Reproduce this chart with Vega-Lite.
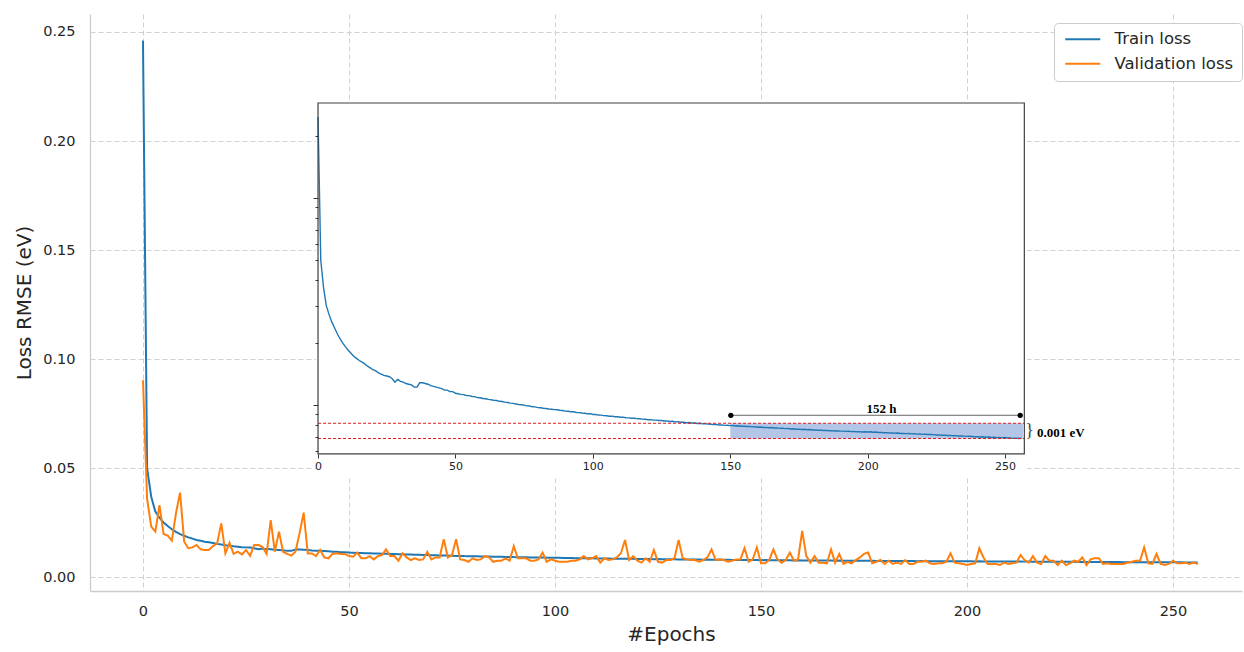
{
  "$schema": "https://vega.github.io/schema/vega-lite/v6.json",
  "width": 1152,
  "height": 577,
  "autosize": {"type": "none"},
  "padding": {"left": 90, "top": 14, "right": 2, "bottom": 61},
  "background": "white",
  "config": {
    "font": "DejaVu Sans",
    "view": {"stroke": null},
    "axis": {"labelFont": "DejaVu Sans", "titleFont": "DejaVu Sans", "labelColor": "#262626", "titleColor": "#262626", "titleFontWeight": "normal", "gridColor": "#d0d0d0", "gridDash": [5, 3], "gridWidth": 1, "domain": false, "ticks": false},
    "legend": {"labelFont": "DejaVu Sans"}
  },
  "datasets": {
    "d": [
      {"epoch":0,"train":0.2460,"val":0.0904},{"epoch":1,"train":0.0500,"val":0.0360},{"epoch":2,"train":0.0370,"val":0.0233},{"epoch":3,"train":0.0302,"val":0.0210},{"epoch":4,"train":0.0274,"val":0.0332},{"epoch":5,"train":0.0252,"val":0.0199},{"epoch":6,"train":0.0236,"val":0.0192},{"epoch":7,"train":0.0221,"val":0.0169},{"epoch":8,"train":0.0209,"val":0.0294},{"epoch":9,"train":0.0199,"val":0.0389},
      {"epoch":10,"train":0.0191,"val":0.0164},{"epoch":11,"train":0.0184,"val":0.0134},{"epoch":12,"train":0.0178,"val":0.0138},{"epoch":13,"train":0.0172,"val":0.0149},{"epoch":14,"train":0.0168,"val":0.0129},{"epoch":15,"train":0.0164,"val":0.0126},{"epoch":16,"train":0.0161,"val":0.0126},{"epoch":17,"train":0.0158,"val":0.0144},{"epoch":18,"train":0.0154,"val":0.0156},{"epoch":19,"train":0.0151,"val":0.0248},
      {"epoch":20,"train":0.0148,"val":0.0111},{"epoch":21,"train":0.0146,"val":0.0159},{"epoch":22,"train":0.0143,"val":0.0108},{"epoch":23,"train":0.0141,"val":0.0118},{"epoch":24,"train":0.0139,"val":0.0106},{"epoch":25,"train":0.0138,"val":0.0126},{"epoch":26,"train":0.0137,"val":0.0099},{"epoch":27,"train":0.0134,"val":0.0149},{"epoch":28,"train":0.0129,"val":0.0149},{"epoch":29,"train":0.0133,"val":0.0141},
      {"epoch":30,"train":0.0130,"val":0.0108},{"epoch":31,"train":0.0129,"val":0.0263},{"epoch":32,"train":0.0127,"val":0.0118},{"epoch":33,"train":0.0126,"val":0.0210},{"epoch":34,"train":0.0125,"val":0.0118},{"epoch":35,"train":0.0122,"val":0.0108},{"epoch":36,"train":0.0122,"val":0.0100},{"epoch":37,"train":0.0128,"val":0.0118},{"epoch":38,"train":0.0128,"val":0.0202},{"epoch":39,"train":0.0127,"val":0.0297},
      {"epoch":40,"train":0.0126,"val":0.0110},{"epoch":41,"train":0.0124,"val":0.0110},{"epoch":42,"train":0.0123,"val":0.0098},{"epoch":43,"train":0.0122,"val":0.0126},{"epoch":44,"train":0.0121,"val":0.0092},{"epoch":45,"train":0.0120,"val":0.0088},{"epoch":46,"train":0.0118,"val":0.0108},{"epoch":47,"train":0.0118,"val":0.0111},{"epoch":48,"train":0.0116,"val":0.0108},{"epoch":49,"train":0.0116,"val":0.0108},
      {"epoch":50,"train":0.01140,"val":0.0098},{"epoch":51,"train":0.01134,"val":0.0095},{"epoch":52,"train":0.01126,"val":0.0114},{"epoch":53,"train":0.01122,"val":0.0088},{"epoch":54,"train":0.01112,"val":0.0088},{"epoch":55,"train":0.01110,"val":0.0098},{"epoch":56,"train":0.01099,"val":0.0083},{"epoch":57,"train":0.01097,"val":0.0098},{"epoch":58,"train":0.01086,"val":0.0103},{"epoch":59,"train":0.01084,"val":0.0129},
      {"epoch":60,"train":0.01075,"val":0.0098},{"epoch":61,"train":0.01072,"val":0.0098},{"epoch":62,"train":0.01064,"val":0.0077},{"epoch":63,"train":0.01060,"val":0.0111},{"epoch":64,"train":0.01053,"val":0.0092},{"epoch":65,"train":0.01051,"val":0.0080},{"epoch":66,"train":0.01042,"val":0.0088},{"epoch":67,"train":0.01040,"val":0.0080},{"epoch":68,"train":0.01032,"val":0.0083},{"epoch":69,"train":0.01028,"val":0.0118},
      {"epoch":70,"train":0.01021,"val":0.0083},{"epoch":71,"train":0.01018,"val":0.0092},{"epoch":72,"train":0.01011,"val":0.0092},{"epoch":73,"train":0.01006,"val":0.0175},{"epoch":74,"train":0.01002,"val":0.0092},{"epoch":75,"train":0.00998,"val":0.0103},{"epoch":76,"train":0.00990,"val":0.0175},{"epoch":77,"train":0.00989,"val":0.0083},{"epoch":78,"train":0.00980,"val":0.0080},{"epoch":79,"train":0.00979,"val":0.0072},
      {"epoch":80,"train":0.00971,"val":0.0088},{"epoch":81,"train":0.00970,"val":0.0080},{"epoch":82,"train":0.00965,"val":0.0083},{"epoch":83,"train":0.00962,"val":0.0098},{"epoch":84,"train":0.00957,"val":0.0092},{"epoch":85,"train":0.00954,"val":0.0072},{"epoch":86,"train":0.00950,"val":0.0077},{"epoch":87,"train":0.00948,"val":0.0077},{"epoch":88,"train":0.00943,"val":0.0088},{"epoch":89,"train":0.00940,"val":0.0077},
      {"epoch":90,"train":0.00934,"val":0.0144},{"epoch":91,"train":0.00933,"val":0.0088},{"epoch":92,"train":0.00928,"val":0.0088},{"epoch":93,"train":0.00927,"val":0.0088},{"epoch":94,"train":0.00920,"val":0.0077},{"epoch":95,"train":0.00919,"val":0.0077},{"epoch":96,"train":0.00915,"val":0.0083},{"epoch":97,"train":0.00912,"val":0.0114},{"epoch":98,"train":0.00907,"val":0.0072},{"epoch":99,"train":0.00908,"val":0.0083},
      {"epoch":100,"train":0.00900,"val":0.0077},{"epoch":101,"train":0.00899,"val":0.0072},{"epoch":102,"train":0.00894,"val":0.0072},{"epoch":103,"train":0.00893,"val":0.0072},{"epoch":104,"train":0.00889,"val":0.0077},{"epoch":105,"train":0.00887,"val":0.0077},{"epoch":106,"train":0.00883,"val":0.0083},{"epoch":107,"train":0.00884,"val":0.0098},{"epoch":108,"train":0.00878,"val":0.0083},{"epoch":109,"train":0.00877,"val":0.0088},
      {"epoch":110,"train":0.00873,"val":0.0098},{"epoch":111,"train":0.00874,"val":0.0068},{"epoch":112,"train":0.00868,"val":0.0088},{"epoch":113,"train":0.00867,"val":0.0080},{"epoch":114,"train":0.00863,"val":0.0083},{"epoch":115,"train":0.00863,"val":0.0092},{"epoch":116,"train":0.00859,"val":0.0111},{"epoch":117,"train":0.00858,"val":0.0172},{"epoch":118,"train":0.00855,"val":0.0080},{"epoch":119,"train":0.00853,"val":0.0098},
      {"epoch":120,"train":0.00849,"val":0.0077},{"epoch":121,"train":0.00850,"val":0.0068},{"epoch":122,"train":0.00845,"val":0.0088},{"epoch":123,"train":0.00845,"val":0.0072},{"epoch":124,"train":0.00841,"val":0.0126},{"epoch":125,"train":0.00842,"val":0.0072},{"epoch":126,"train":0.00837,"val":0.0068},{"epoch":127,"train":0.00838,"val":0.0080},{"epoch":128,"train":0.00833,"val":0.0080},{"epoch":129,"train":0.00834,"val":0.0088},
      {"epoch":130,"train":0.00829,"val":0.0172},{"epoch":131,"train":0.00830,"val":0.0088},{"epoch":132,"train":0.00826,"val":0.0083},{"epoch":133,"train":0.00826,"val":0.0080},{"epoch":134,"train":0.00821,"val":0.0080},{"epoch":135,"train":0.00823,"val":0.0072},{"epoch":136,"train":0.00818,"val":0.0080},{"epoch":137,"train":0.00819,"val":0.0092},{"epoch":138,"train":0.00814,"val":0.0129},{"epoch":139,"train":0.00816,"val":0.0080},
      {"epoch":140,"train":0.00811,"val":0.0083},{"epoch":141,"train":0.00812,"val":0.0080},{"epoch":142,"train":0.00808,"val":0.0072},{"epoch":143,"train":0.00807,"val":0.0077},{"epoch":144,"train":0.00804,"val":0.0083},{"epoch":145,"train":0.00805,"val":0.0083},{"epoch":146,"train":0.00800,"val":0.0134},{"epoch":147,"train":0.00802,"val":0.0072},{"epoch":148,"train":0.00797,"val":0.0083},{"epoch":149,"train":0.00798,"val":0.0138},
      {"epoch":150,"train":0.00795,"val":0.0065},{"epoch":151,"train":0.00796,"val":0.0065},{"epoch":152,"train":0.00792,"val":0.0080},{"epoch":153,"train":0.00794,"val":0.0129},{"epoch":154,"train":0.00789,"val":0.0083},{"epoch":155,"train":0.00790,"val":0.0068},{"epoch":156,"train":0.00787,"val":0.0080},{"epoch":157,"train":0.00788,"val":0.0114},{"epoch":158,"train":0.00784,"val":0.0077},{"epoch":159,"train":0.00785,"val":0.0083},
      {"epoch":160,"train":0.00781,"val":0.0214},{"epoch":161,"train":0.00783,"val":0.0098},{"epoch":162,"train":0.00779,"val":0.0068},{"epoch":163,"train":0.00780,"val":0.0098},{"epoch":164,"train":0.00776,"val":0.0068},{"epoch":165,"train":0.00778,"val":0.0068},{"epoch":166,"train":0.00774,"val":0.0065},{"epoch":167,"train":0.00775,"val":0.0129},{"epoch":168,"train":0.00771,"val":0.0068},{"epoch":169,"train":0.00773,"val":0.0108},
      {"epoch":170,"train":0.00769,"val":0.0062},{"epoch":171,"train":0.00770,"val":0.0072},{"epoch":172,"train":0.00766,"val":0.0065},{"epoch":173,"train":0.00768,"val":0.0080},{"epoch":174,"train":0.00764,"val":0.0092},{"epoch":175,"train":0.00765,"val":0.0108},{"epoch":176,"train":0.00762,"val":0.0114},{"epoch":177,"train":0.00763,"val":0.0065},{"epoch":178,"train":0.00759,"val":0.0072},{"epoch":179,"train":0.00761,"val":0.0080},
      {"epoch":180,"train":0.00757,"val":0.0062},{"epoch":181,"train":0.00758,"val":0.0077},{"epoch":182,"train":0.00755,"val":0.0062},{"epoch":183,"train":0.00756,"val":0.0068},{"epoch":184,"train":0.00753,"val":0.0062},{"epoch":185,"train":0.00754,"val":0.0080},{"epoch":186,"train":0.00751,"val":0.0062},{"epoch":187,"train":0.00752,"val":0.0062},{"epoch":188,"train":0.00749,"val":0.0072},{"epoch":189,"train":0.00750,"val":0.0072},
      {"epoch":190,"train":0.00748,"val":0.0077},{"epoch":191,"train":0.00748,"val":0.0065},{"epoch":192,"train":0.00746,"val":0.0062},{"epoch":193,"train":0.00747,"val":0.0065},{"epoch":194,"train":0.00744,"val":0.0065},{"epoch":195,"train":0.00745,"val":0.0072},{"epoch":196,"train":0.00742,"val":0.0111},{"epoch":197,"train":0.00743,"val":0.0068},{"epoch":198,"train":0.00741,"val":0.0065},{"epoch":199,"train":0.00742,"val":0.0062},
      {"epoch":200,"train":0.00740,"val":0.0057},{"epoch":201,"train":0.00742,"val":0.0062},{"epoch":202,"train":0.00738,"val":0.0065},{"epoch":203,"train":0.00740,"val":0.0134},{"epoch":204,"train":0.00736,"val":0.0092},{"epoch":205,"train":0.00737,"val":0.0062},{"epoch":206,"train":0.00734,"val":0.0062},{"epoch":207,"train":0.00735,"val":0.0062},{"epoch":208,"train":0.00732,"val":0.0057},{"epoch":209,"train":0.00733,"val":0.0068},
      {"epoch":210,"train":0.00730,"val":0.0062},{"epoch":211,"train":0.00732,"val":0.0065},{"epoch":212,"train":0.00728,"val":0.0068},{"epoch":213,"train":0.00729,"val":0.0103},{"epoch":214,"train":0.00727,"val":0.0080},{"epoch":215,"train":0.00728,"val":0.0068},{"epoch":216,"train":0.00725,"val":0.0098},{"epoch":217,"train":0.00726,"val":0.0068},{"epoch":218,"train":0.00723,"val":0.0062},{"epoch":219,"train":0.00724,"val":0.0098},
      {"epoch":220,"train":0.00721,"val":0.0077},{"epoch":221,"train":0.00722,"val":0.0077},{"epoch":222,"train":0.00720,"val":0.0057},{"epoch":223,"train":0.00721,"val":0.0077},{"epoch":224,"train":0.00719,"val":0.0057},{"epoch":225,"train":0.00716,"val":0.0065},{"epoch":226,"train":0.00717,"val":0.0077},{"epoch":227,"train":0.00714,"val":0.0072},{"epoch":228,"train":0.00715,"val":0.0092},{"epoch":229,"train":0.00712,"val":0.0057},
      {"epoch":230,"train":0.00713,"val":0.0083},{"epoch":231,"train":0.00710,"val":0.0088},{"epoch":232,"train":0.00711,"val":0.0088},{"epoch":233,"train":0.00708,"val":0.0062},{"epoch":234,"train":0.00709,"val":0.0065},{"epoch":235,"train":0.00707,"val":0.0062},{"epoch":236,"train":0.00705,"val":0.0062},{"epoch":237,"train":0.00706,"val":0.0062},{"epoch":238,"train":0.00704,"val":0.0062},{"epoch":239,"train":0.00702,"val":0.0068},
      {"epoch":240,"train":0.00703,"val":0.0072},{"epoch":241,"train":0.00701,"val":0.0077},{"epoch":242,"train":0.00702,"val":0.0077},{"epoch":243,"train":0.00699,"val":0.0138},{"epoch":244,"train":0.00700,"val":0.0065},{"epoch":245,"train":0.00697,"val":0.0062},{"epoch":246,"train":0.00698,"val":0.0108},{"epoch":247,"train":0.00696,"val":0.0062},{"epoch":248,"train":0.00697,"val":0.0057},{"epoch":249,"train":0.00694,"val":0.0062},
      {"epoch":250,"train":0.00696,"val":0.0077},{"epoch":251,"train":0.00693,"val":0.0065},{"epoch":252,"train":0.00694,"val":0.0065},{"epoch":253,"train":0.00690,"val":0.0068},{"epoch":254,"train":0.00692,"val":0.0062},{"epoch":255,"train":0.00689,"val":0.0068},{"epoch":256,"train":0.00691,"val":0.0062}
    ]
  },
  "layer": [
    {
      "layer": [
        {
          "data": {"name": "d"},
          "transform": [{"fold": ["train", "val"], "as": ["series", "loss"]}],
          "mark": {"type": "line", "strokeWidth": 2},
          "encoding": {
            "x": {"field": "epoch", "type": "quantitative", "scale": {"domain": [-12.86, 266.75], "nice": false, "zero": false},
                  "axis": {"values": [0, 50, 100, 150, 200, 250], "labelFontSize": 14.5, "labelPadding": 13, "title": "#Epochs", "titleFontSize": 20, "titlePadding": 7, "titleX": 581, "grid": true, "domain": true, "domainColor": "#cccccc", "domainWidth": 1.3, "zindex": 0}},
            "y": {"field": "loss", "type": "quantitative", "scale": {"domain": [-0.00619, 0.2582], "nice": false, "zero": false},
                  "axis": {"values": [0, 0.05, 0.1, 0.15, 0.2, 0.25], "format": ".2f", "labelFontSize": 14.5, "labelPadding": 15, "title": "Loss RMSE (eV)", "titleFontSize": 20, "titlePadding": 8, "grid": true, "domain": true, "domainColor": "#cccccc", "domainWidth": 1.3, "zindex": 0}},
            "color": {"field": "series", "type": "nominal", "scale": {"domain": ["train", "val"], "range": ["#1f77b4", "#ff7f0e"]},
                      "legend": {"title": null, "orient": "none", "legendX": 964, "legendY": 9, "labelExpr": "datum.value == 'train' ? 'Train loss' : 'Validation loss'", "labelFontSize": 16.5, "labelColor": "#262626", "symbolType": "M-1,0L6,0", "symbolSize": 100, "symbolStrokeWidth": 2, "labelOffset": 36, "strokeColor": "#cccccc", "fillColor": "white", "padding": 8, "cornerRadius": 4, "rowPadding": 7.5}}
          }
        },
        {
          "mark": {"type": "rule", "color": "#cccccc", "strokeWidth": 1.3},
          "encoding": {
            "x": {"datum": -12.86, "type": "quantitative"},
            "x2": {"datum": 266.75},
            "y": {"datum": 0.2582, "type": "quantitative"}
          }
        }
      ]
    },
    {
      "layer": [
        {
          "data": {"values": [{"x1": -0.7, "x2": 258.0, "y1": 0.00454, "y2": 0.2973}]},
          "mark": {"type": "rect", "fill": "white", "stroke": null},
          "encoding": {
            "x": {"field": "x1", "type": "quantitative", "title": null, "scale": {"domain": [-82.97, 336.2], "nice": false, "zero": false},
                  "axis": {"orient": "bottom", "offset": -137, "values": [0, 50, 100, 150, 200, 250], "domain": false, "grid": false, "ticks": true, "tickSize": 4, "tickColor": "#333333", "tickWidth": 1, "labelFontSize": 11, "labelPadding": 2, "labelColor": "#222222", "labelFlush": false, "title": null, "zindex": 2}},
            "x2": {"field": "x2"},
            "y": {"field": "y1", "type": "quantitative", "title": null, "scale": {"type": "log", "domain": [0.001263, 0.7744], "nice": false},
                  "axis": {"orient": "left", "offset": -228, "values": [0.006, 0.007, 0.008, 0.009, 0.01, 0.02, 0.03, 0.04, 0.05, 0.06, 0.07, 0.08, 0.09, 0.1, 0.2], "labels": false, "domain": false, "grid": false, "ticks": true, "tickColor": "#333333", "tickWidth": 1, "tickSize": {"condition": {"test": "datum.value == 0.01 || datum.value == 0.1", "value": 5}, "value": 3}, "title": null, "zindex": 2}},
            "y2": {"field": "y2"}
          }
        },
        {
          "data": {"values": [{"x1": 150, "x2": 256.5, "y1": 0.00689, "y2": 0.00816}]},
          "mark": {"type": "rect", "fill": "#b4c6e7"},
          "encoding": {
            "x": {"field": "x1", "type": "quantitative", "title": null, "scale": {"domain": [-82.97, 336.2], "nice": false, "zero": false}},
            "x2": {"field": "x2"},
            "y": {"field": "y1", "type": "quantitative", "title": null, "scale": {"type": "log", "domain": [0.001263, 0.7744], "nice": false}},
            "y2": {"field": "y2"}
          }
        },
        {
          "data": {"name": "d"},
          "mark": {"type": "line", "color": "#1f77b4", "strokeWidth": 1.4},
          "encoding": {
            "x": {"field": "epoch", "type": "quantitative", "title": null, "scale": {"domain": [-82.97, 336.2], "nice": false, "zero": false}},
            "y": {"field": "train", "type": "quantitative", "title": null, "scale": {"type": "log", "domain": [0.001263, 0.7744], "nice": false}}
          }
        },
        {
          "data": {"values": [{"x1": 0, "x2": 257, "y1": 0.00816}, {"x1": 0, "x2": 257, "y1": 0.00689}]},
          "mark": {"type": "rule", "color": "#e31a1c", "strokeDash": [3, 2], "strokeWidth": 1},
          "encoding": {
            "x": {"field": "x1", "type": "quantitative", "title": null, "scale": {"domain": [-82.97, 336.2], "nice": false, "zero": false}},
            "x2": {"field": "x2"},
            "y": {"field": "y1", "type": "quantitative", "title": null, "scale": {"type": "log", "domain": [0.001263, 0.7744], "nice": false}}
          }
        },
        {
          "data": {"values": [{"x1": 0, "x2": 257, "y1": 0.0058, "y2": 0.2877}]},
          "mark": {"type": "rect", "fillOpacity": 0, "stroke": "#404040", "strokeWidth": 1.2},
          "encoding": {
            "x": {"field": "x1", "type": "quantitative", "title": null, "scale": {"domain": [-82.97, 336.2], "nice": false, "zero": false}},
            "x2": {"field": "x2"},
            "y": {"field": "y1", "type": "quantitative", "title": null, "scale": {"type": "log", "domain": [0.001263, 0.7744], "nice": false}},
            "y2": {"field": "y2"}
          }
        },
        {
          "data": {"values": [{"x1": 150.2, "x2": 255.5, "y1": 0.00892}]},
          "mark": {"type": "rule", "color": "#666666", "strokeWidth": 1},
          "encoding": {
            "x": {"field": "x1", "type": "quantitative", "title": null, "scale": {"domain": [-82.97, 336.2], "nice": false, "zero": false}},
            "x2": {"field": "x2"},
            "y": {"field": "y1", "type": "quantitative", "title": null, "scale": {"type": "log", "domain": [0.001263, 0.7744], "nice": false}}
          }
        },
        {
          "data": {"values": [{"x1": 150.2, "y1": 0.00892}, {"x1": 255.5, "y1": 0.00892}]},
          "mark": {"type": "point", "filled": true, "color": "black", "size": 28, "opacity": 1},
          "encoding": {
            "x": {"field": "x1", "type": "quantitative", "title": null, "scale": {"domain": [-82.97, 336.2], "nice": false, "zero": false}},
            "y": {"field": "y1", "type": "quantitative", "title": null, "scale": {"type": "log", "domain": [0.001263, 0.7744], "nice": false}}
          }
        },
        {
          "data": {"values": [{"x1": 205, "y1": 0.00953, "t": "152 h"}]},
          "mark": {"type": "text", "font": "Liberation Serif", "fontWeight": "bold", "fontSize": 13, "align": "center", "baseline": "middle", "color": "black"},
          "encoding": {
            "x": {"field": "x1", "type": "quantitative", "title": null, "scale": {"domain": [-82.97, 336.2], "nice": false, "zero": false}},
            "y": {"field": "y1", "type": "quantitative", "title": null, "scale": {"type": "log", "domain": [0.001263, 0.7744], "nice": false}},
            "text": {"field": "t"}
          }
        },
        {
          "data": {"values": [{"x1": 261.6, "y1": 0.0073, "t": "0.001 eV"}]},
          "mark": {"type": "text", "font": "Liberation Serif", "fontWeight": "bold", "fontSize": 13, "align": "left", "baseline": "middle", "color": "black"},
          "encoding": {
            "x": {"field": "x1", "type": "quantitative", "title": null, "scale": {"domain": [-82.97, 336.2], "nice": false, "zero": false}},
            "y": {"field": "y1", "type": "quantitative", "title": null, "scale": {"type": "log", "domain": [0.001263, 0.7744], "nice": false}},
            "text": {"field": "t"}
          }
        },
        {
          "data": {"values": [{"x1": 258.9, "y1": 0.00749, "t": "}"}]},
          "mark": {"type": "text", "font": "Liberation Serif", "fontSize": 18, "align": "center", "baseline": "middle", "color": "#444444"},
          "encoding": {
            "x": {"field": "x1", "type": "quantitative", "title": null, "scale": {"domain": [-82.97, 336.2], "nice": false, "zero": false}},
            "y": {"field": "y1", "type": "quantitative", "title": null, "scale": {"type": "log", "domain": [0.001263, 0.7744], "nice": false}},
            "text": {"field": "t"}
          }
        }
      ]
    }
  ],
  "resolve": {"scale": {"x": "independent", "y": "independent"}, "axis": {"x": "independent", "y": "independent"}}
}
